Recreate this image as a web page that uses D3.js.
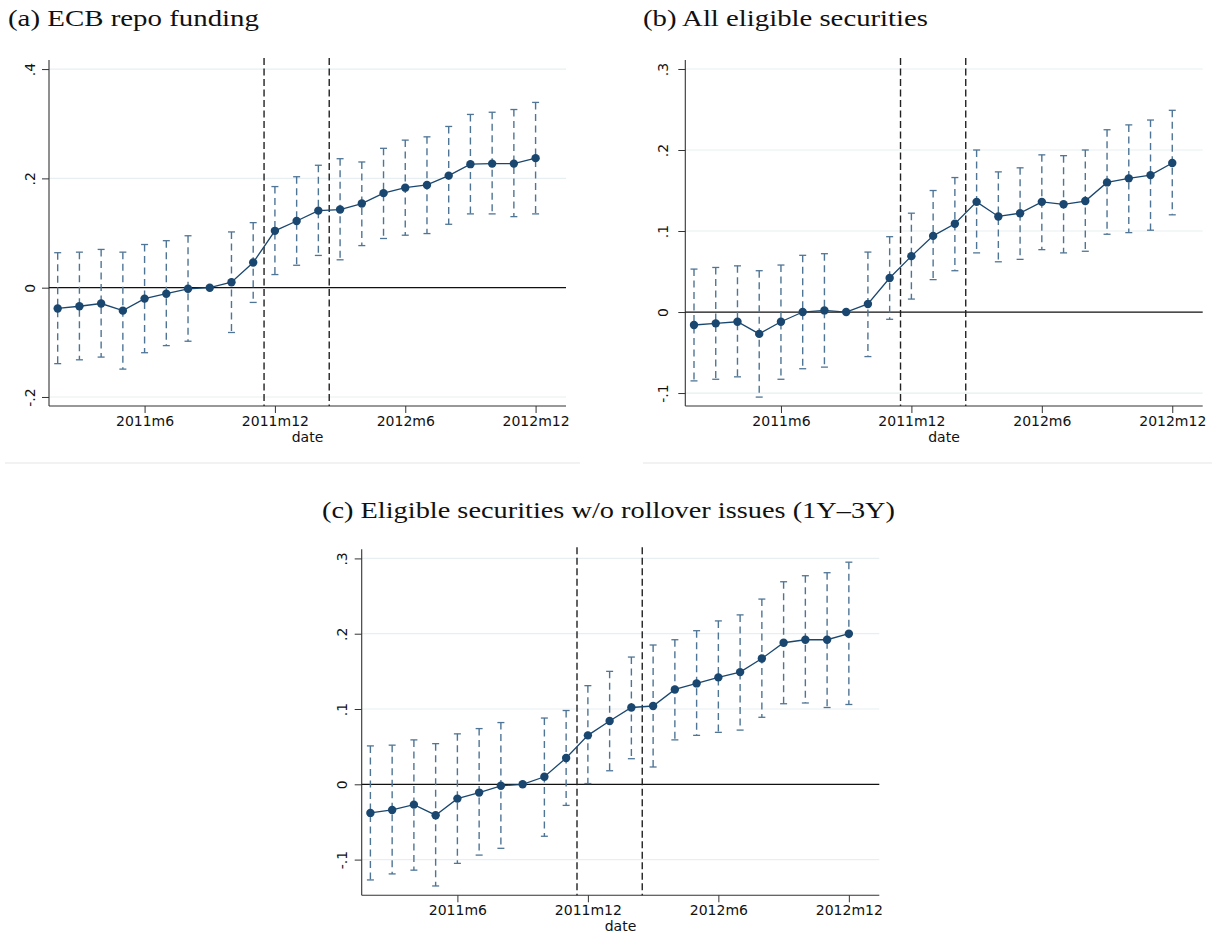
<!DOCTYPE html>
<html>
<head>
<meta charset="utf-8">
<script src="https://cdn.jsdelivr.net/npm/d3@7"></script>
<style>
  html, body { margin: 0; padding: 0; background: #ffffff; }
  svg { display: block; }
</style>
</head>
<body>
<div id="chart"></div>
<script>
// ---------------- DATA ----------------
const months = ["2011m2","2011m3","2011m4","2011m5","2011m6","2011m7","2011m8","2011m9","2011m10","2011m11","2011m12",
                "2012m1","2012m2","2012m3","2012m4","2012m5","2012m6","2012m7","2012m8","2012m9","2012m10","2012m11","2012m12"];
const monthIndex = months.map((m, i) => i + 1);          // 2011m1 = 0
const xTickLabels = ["2011m6", "2011m12", "2012m6", "2012m12"];
const eventLines = ["2011m11.5", "2012m2.5"];              // between months

// (a) ECB repo funding
const estA = [-0.038,-0.034,-0.029,-0.042,-0.020,-0.011,-0.002,0.000,0.010,0.046,0.104,0.122,
              0.141,0.143,0.154,0.173,0.183,0.188,0.205,0.226,0.227,0.227,0.237];
const hiA  = [0.064,0.065,0.070,0.065,0.079,0.086,0.095,null,0.102,0.119,0.185,0.203,
              0.224,0.236,0.230,0.255,0.270,0.276,0.295,0.317,0.321,0.326,0.339];
const loA  = [-0.139,-0.132,-0.127,-0.149,-0.119,-0.106,-0.098,null,-0.082,-0.027,0.024,0.041,
              0.059,0.051,0.077,0.090,0.096,0.099,0.116,0.135,0.135,0.130,0.135];
const yTicksA = [-0.2, 0, 0.2, 0.4];
const yTickLabelsA = ["-.2", "0", ".2", ".4"];

// (b) All eligible securities
const estB = [-0.016,-0.014,-0.012,-0.027,-0.012,0.000,0.002,0.000,0.010,0.042,0.069,0.094,
              0.109,0.136,0.118,0.122,0.136,0.133,0.137,0.160,0.165,0.169,0.184];
const hiB  = [0.053,0.055,0.057,0.051,0.058,0.070,0.072,null,0.074,0.093,0.122,0.150,
              0.166,0.200,0.173,0.178,0.194,0.193,0.200,0.225,0.231,0.237,0.249];
const loB  = [-0.085,-0.083,-0.080,-0.105,-0.083,-0.070,-0.068,null,-0.055,-0.009,0.016,0.040,
              0.051,0.073,0.062,0.065,0.077,0.073,0.075,0.096,0.098,0.101,0.120];
const yTicksB = [-0.1, 0, 0.1, 0.2, 0.3];
const yTickLabelsB = ["-.1", "0", ".1", ".2", ".3"];

// (c) Eligible securities w/o rollover issues (1Y–3Y)
const estC = [-0.038,-0.034,-0.027,-0.041,-0.019,-0.011,-0.002,0.000,0.010,0.035,0.065,0.084,
              0.102,0.104,0.126,0.134,0.142,0.149,0.167,0.188,0.192,0.192,0.200];
const hiC  = [0.051,0.052,0.059,0.054,0.067,0.074,0.082,null,0.088,0.098,0.131,0.150,
              0.169,0.185,0.192,0.204,0.217,0.225,0.246,0.269,0.277,0.281,0.295];
const loC  = [-0.127,-0.119,-0.114,-0.135,-0.105,-0.094,-0.085,null,-0.069,-0.028,0.001,0.018,
              0.034,0.023,0.059,0.065,0.069,0.072,0.089,0.107,0.108,0.102,0.106];
const yTicksC = [-0.1, 0, 0.1, 0.2, 0.3];
const yTickLabelsC = ["-.1", "0", ".1", ".2", ".3"];

const titles = ["(a) ECB repo funding", "(b) All eligible securities",
                "(c) Eligible securities w/o rollover issues (1Y–3Y)"];

// ---------------- LAYOUT ----------------
const W = 1215, H = 934;
const monthToIdx = s => { const [y, m] = s.split("m"); return (+y - 2011) * 12 + (+m) - 1; };

const panels = [
  { est: estA, lo: loA, hi: hiA, ticks: yTicksA, tickLabels: yTickLabelsA, title: titles[0],
    x0: 49, x1: 566, y0: 60, y1: 406, yDom: [-0.2165, 0.4166], labGap: 14,
    titleX: 8, titleY: 26, titleLen: 251, sep: [5, 580, 463] },
  { est: estB, lo: loB, hi: hiB, ticks: yTicksB, tickLabels: yTickLabelsB, title: titles[1],
    x0: 685.3, x1: 1202.7, y0: 60, y1: 406, yDom: [-0.1160, 0.3111], labGap: 17,
    titleX: 643, titleY: 26, titleLen: 285, sep: [643, 1212, 463] },
  { est: estC, lo: loC, hi: hiC, ticks: yTicksC, tickLabels: yTickLabelsC, title: titles[2],
    x0: 361.7, x1: 879.3, y0: 549.3, y1: 895.3, yDom: [-0.1474, 0.3121], labGap: 15,
    titleX: 322, titleY: 518, titleLen: 573, sep: null }
];

const navy = "#1a476f";
const ciColor = "#4f7596";
const gridColor = "#e7eff2";
const sansFont = "'DejaVu Sans', Verdana, sans-serif";
const serifFont = "'Liberation Serif', 'DejaVu Serif', serif";

const svg = d3.select("#chart").append("svg")
  .attr("width", W).attr("height", H)
  .attr("viewBox", `0 0 ${W} ${H}`);

svg.append("rect").attr("width", W).attr("height", H).attr("fill", "#ffffff");

panels.forEach(p => {
  const g = svg.append("g");
  const x = d3.scaleLinear().domain([0.6, 24.4]).range([p.x0, p.x1]);
  const y = d3.scaleLinear().domain(p.yDom).range([p.y1, p.y0]);

  // separator (graph region edge)
  if (p.sep) {
    g.append("line").attr("x1", p.sep[0]).attr("x2", p.sep[1])
      .attr("y1", p.sep[2]).attr("y2", p.sep[2])
      .attr("stroke", "#eeeeee").attr("stroke-width", 1.5);
  }

  // title
  g.append("text").attr("x", p.titleX).attr("y", p.titleY)
    .attr("font-family", serifFont).attr("font-size", 23)
    .attr("fill", "#111").attr("textLength", p.titleLen)
    .attr("lengthAdjust", "spacingAndGlyphs")
    .text(p.title);

  // gridlines
  g.append("g").selectAll("line").data(p.ticks.filter(t => t !== 0)).join("line")
    .attr("x1", p.x0).attr("x2", p.x1)
    .attr("y1", d => y(d)).attr("y2", d => y(d))
    .attr("stroke", gridColor).attr("stroke-width", 1.2);

  // y axis
  const yAxis = d3.axisLeft(y).tickValues(p.ticks)
    .tickFormat((d, i) => p.tickLabels[i]).tickSize(7).tickPadding(p.labGap - 7);
  const ya = g.append("g").attr("transform", `translate(${p.x0},0)`).call(yAxis);
  ya.attr("font-family", sansFont);
  ya.select(".domain").attr("d", `M0,${p.y0}V${p.y1}`).attr("stroke", "#333").attr("stroke-width", 1.1);
  ya.selectAll(".tick line").attr("stroke", "#333").attr("stroke-width", 1);
  ya.selectAll(".tick text")
    .attr("font-family", sansFont).attr("font-size", 14).attr("fill", "#111")
    .attr("x", null).attr("dy", null)
    .attr("text-anchor", "middle")
    .attr("transform", `translate(${-p.labGap},0) rotate(-90)`);

  // x axis
  const xAxis = d3.axisBottom(x).tickValues(xTickLabels.map(monthToIdx))
    .tickFormat((d, i) => xTickLabels[i]).tickSize(7).tickPadding(0);
  const xa = g.append("g").attr("transform", `translate(0,${p.y1})`).call(xAxis);
  xa.attr("font-family", sansFont);
  xa.select(".domain").attr("d", `M${p.x0},0H${p.x1}`).attr("stroke", "#333").attr("stroke-width", 1.1);
  xa.selectAll(".tick line").attr("stroke", "#333").attr("stroke-width", 1);
  xa.selectAll(".tick text").attr("font-family", sansFont).attr("font-size", 14).attr("fill", "#111")
    .attr("dy", null).attr("y", 19.5);

  g.append("text").attr("x", (p.x0 + p.x1) / 2).attr("y", p.y1 + 36)
    .attr("text-anchor", "middle")
    .attr("font-family", sansFont).attr("font-size", 14).attr("fill", "#111")
    .text("date");

  // zero line
  g.append("line").attr("x1", p.x0).attr("x2", p.x1)
    .attr("y1", y(0)).attr("y2", y(0))
    .attr("stroke", "#111").attr("stroke-width", 1.3);

  // event lines
  g.append("g").selectAll("line").data(eventLines).join("line")
    .attr("x1", d => x(monthToIdx(d.replace(".5", "")) + 0.5))
    .attr("x2", d => x(monthToIdx(d.replace(".5", "")) + 0.5))
    .attr("y1", p.y0 - 2).attr("y2", p.y1)
    .attr("stroke", "#222").attr("stroke-width", 1.4)
    .attr("stroke-dasharray", "7,3.5");

  // confidence intervals
  const ci = monthIndex.map((t, i) => ({ t, lo: p.lo[i], hi: p.hi[i] })).filter(d => d.lo !== null);
  const cig = g.append("g");
  cig.selectAll("line.v").data(ci).join("line").attr("class", "v")
    .attr("x1", d => x(d.t)).attr("x2", d => x(d.t))
    .attr("y1", d => y(d.hi)).attr("y2", d => y(d.lo))
    .attr("stroke", ciColor).attr("stroke-width", 1.4)
    .attr("stroke-dasharray", "7,4.5");
  ["lo", "hi"].forEach(k => {
    cig.selectAll("line.c" + k).data(ci).join("line").attr("class", "c" + k)
      .attr("x1", d => x(d.t) - 3.5).attr("x2", d => x(d.t) + 3.5)
      .attr("y1", d => y(d[k])).attr("y2", d => y(d[k]))
      .attr("stroke", ciColor).attr("stroke-width", 1.3);
  });

  // line + markers
  const pts = monthIndex.map((t, i) => ({ t, v: p.est[i] }));
  g.append("path").datum(pts)
    .attr("d", d3.line().x(d => x(d.t)).y(d => y(d.v)))
    .attr("fill", "none").attr("stroke", navy).attr("stroke-width", 1.3);
  g.append("g").selectAll("circle").data(pts).join("circle")
    .attr("cx", d => x(d.t)).attr("cy", d => y(d.v)).attr("r", 4.2)
    .attr("fill", navy);
});
</script>
</body>
</html>
